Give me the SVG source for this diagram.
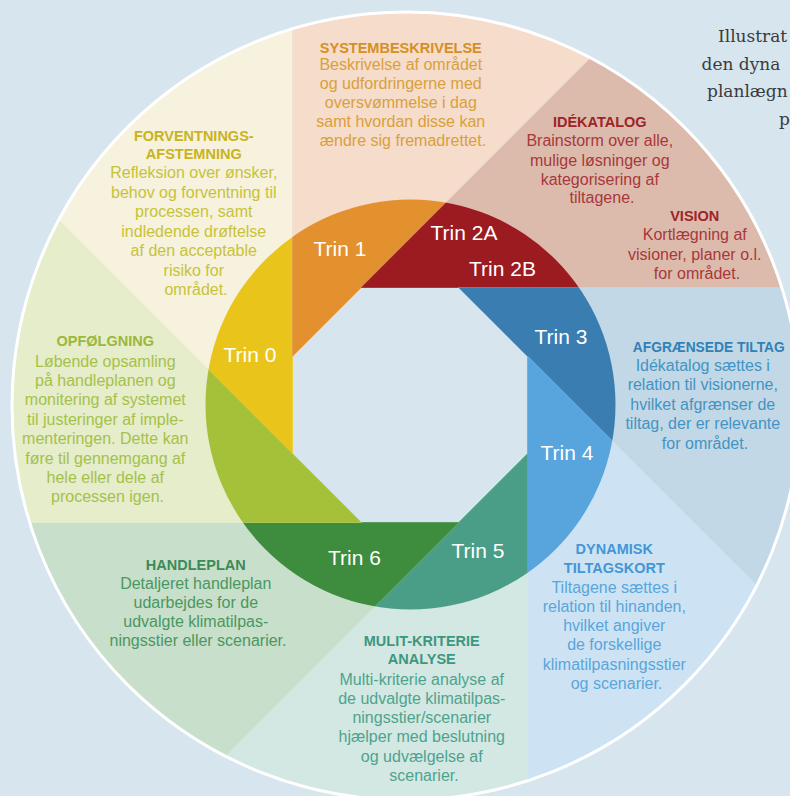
<svg xmlns="http://www.w3.org/2000/svg" xmlns:xlink="http://www.w3.org/1999/xlink" width="790" height="796" viewBox="0 0 790 796">
<defs>
<style>
.t{font-family:"Liberation Sans",Arial,sans-serif;font-size:16px;text-anchor:middle}
.h{font-weight:bold;font-size:14.5px}
.trin{font-family:"Liberation Sans",Arial,sans-serif;font-size:21px;fill:#ffffff;text-anchor:middle}
.cap{font-family:"DejaVu Serif","Liberation Serif",serif;font-size:17px;fill:#3b3b3b}
</style>
<clipPath id="outer"><circle cx="406" cy="406" r="394"/></clipPath>
<clipPath id="ring"><circle cx="410.5" cy="404.5" r="205"/></clipPath>
<polygon id="w0" points="292.5,453.7 -556,-394.8 292.5,-746.3"/>
<polygon id="w1" points="292.5,356.3 292.5,-843.7 1141,-492.2"/>
<polygon id="w2" points="361.3,287.5 1209.8,-561 1561.3,287.5"/>
<polygon id="w3" points="458.7,287.5 1658.7,287.5 1307.2,1136"/>
<polygon id="w4" points="527.5,356.3 1376,1204.8 527.5,1556.3"/>
<polygon id="w5" points="527.5,453.7 527.5,1653.7 -321,1302.2"/>
<polygon id="w6" points="458.7,522.5 -389.8,1371 -741.3,522.5"/>
<polygon id="w7" points="361.3,522.5 -838.7,522.5 -487.2,-326"/>
</defs>
<rect x="0" y="0" width="790" height="796" fill="#d6e5ee"/>

<g id="step0-forventning">
<use xlink:href="#w0" fill="#f6f2dd" stroke="#f6f2dd" stroke-width="0.6" clip-path="url(#outer)"/>
<use xlink:href="#w0" fill="#e9c51b" stroke="#e9c51b" stroke-width="0.6" clip-path="url(#ring)"/>
<text class="trin" x="250" y="361.5">Trin 0</text>
<text class="t" fill="#c8c23a">
<tspan class="h" fill="#c9b31f" x="196" y="141">FORVENTNINGS-</tspan>
<tspan class="h" fill="#c9b31f" x="196" y="158.5">AFSTEMNING</tspan>
<tspan x="196" y="178">Refleksion over ønsker,</tspan>
<tspan x="196" y="197.5">behov og forventning til</tspan>
<tspan x="196" y="217">processen, samt</tspan>
<tspan x="196" y="236.5">indledende drøftelse</tspan>
<tspan x="196" y="256">af den acceptable</tspan>
<tspan x="196" y="275.5">risiko for</tspan>
<tspan x="196" y="295">området.</tspan>
</text>
</g>

<g id="step1-systembeskrivelse">
<use xlink:href="#w1" fill="#f5dccb" stroke="#f5dccb" stroke-width="0.6" clip-path="url(#outer)"/>
<use xlink:href="#w1" fill="#e3902e" stroke="#e3902e" stroke-width="0.6" clip-path="url(#ring)"/>
<text class="trin" x="340" y="256">Trin 1</text>
<text class="t" fill="#d9a03c">
<tspan class="h" fill="#d68f25" x="403" y="53">SYSTEMBESKRIVELSE</tspan>
<tspan x="403" y="69.5">Beskrivelse af området</tspan>
<tspan x="403" y="88.5">og udfordringerne med</tspan>
<tspan x="403" y="107.5">oversvømmelse i dag</tspan>
<tspan x="403" y="126.5">samt hvordan disse kan</tspan>
<tspan x="403" y="145.5">ændre sig fremadrettet.</tspan>
</text>
</g>

<g id="step2-idekatalog-vision">
<use xlink:href="#w2" fill="#dcbbad" stroke="#dcbbad" stroke-width="0.6" clip-path="url(#outer)"/>
<use xlink:href="#w2" fill="#9b1b21" stroke="#9b1b21" stroke-width="0.6" clip-path="url(#ring)"/>
<text class="trin" x="464" y="240">Trin 2A</text>
<text class="trin" x="502.5" y="276">Trin 2B</text>
<text class="t" fill="#a8383a">
<tspan class="h" fill="#9c2528" x="602" y="127">IDÉKATALOG</tspan>
<tspan x="602" y="146">Brainstorm over alle,</tspan>
<tspan x="602" y="165.5">mulige løsninger og</tspan>
<tspan x="602" y="185">kategorisering af</tspan>
<tspan x="602" y="203">tiltagene.</tspan>
</text>
<text class="t" fill="#a8383a">
<tspan class="h" fill="#9c2528" x="697" y="220.5">VISION</tspan>
<tspan x="697" y="240">Kortlægning af</tspan>
<tspan x="697" y="259.5">visioner, planer o.l.</tspan>
<tspan x="697" y="278.5">for området.</tspan>
</text>
</g>

<g id="step3-afgraensede-tiltag">
<use xlink:href="#w3" fill="#c3d8e6" stroke="#c3d8e6" stroke-width="0.6" clip-path="url(#outer)"/>
<use xlink:href="#w3" fill="#3a7db1" stroke="#3a7db1" stroke-width="0.6" clip-path="url(#ring)"/>
<text class="trin" x="561" y="343.5">Trin 3</text>
<text class="t" fill="#4294c4">
<tspan class="h" fill="#3181b6" x="711" y="352" style="font-size:13.8px">AFGRÆNSEDE TILTAG</tspan>
<tspan x="705" y="370.5">Idékatalog sættes i</tspan>
<tspan x="705" y="390">relation til visionerne,</tspan>
<tspan x="705" y="410">hvilket afgrænser de</tspan>
<tspan x="705" y="429">tiltag, der er relevante</tspan>
<tspan x="705" y="448.5">for området.</tspan>
</text>
</g>

<g id="step4-dynamisk-tiltagskort">
<use xlink:href="#w4" fill="#cde3f4" stroke="#cde3f4" stroke-width="0.6" clip-path="url(#outer)"/>
<use xlink:href="#w4" fill="#58a4dc" stroke="#58a4dc" stroke-width="0.6" clip-path="url(#ring)"/>
<text class="trin" x="567" y="460">Trin 4</text>
<text class="t" fill="#58a6dc">
<tspan class="h" fill="#4496d4" x="616.5" y="553.5">DYNAMISK</tspan>
<tspan class="h" fill="#4496d4" x="616.5" y="572.5">TILTAGSKORT</tspan>
<tspan x="616.5" y="592.5">Tiltagene sættes i</tspan>
<tspan x="616.5" y="611.5">relation til hinanden,</tspan>
<tspan x="616.5" y="631">hvilket angiver</tspan>
<tspan x="616.5" y="650">de forskellige</tspan>
<tspan x="616.5" y="669.5">klimatilpasningsstier</tspan>
<tspan x="616.5" y="688.5">og scenarier.</tspan>
</text>
</g>

<g id="step5-multikriterie">
<use xlink:href="#w5" fill="#d3e8e2" stroke="#d3e8e2" stroke-width="0.6" clip-path="url(#outer)"/>
<use xlink:href="#w5" fill="#4a9e87" stroke="#4a9e87" stroke-width="0.6" clip-path="url(#ring)"/>
<text class="trin" x="478" y="557.5">Trin 5</text>
<text class="t" fill="#4ea38f">
<tspan class="h" fill="#3d9780" x="424" y="646">MULIT-KRITERIE</tspan>
<tspan class="h" fill="#3d9780" x="424" y="664">ANALYSE</tspan>
<tspan x="424" y="684.5">Multi-kriterie analyse af</tspan>
<tspan x="424" y="703.5">de udvalgte klimatilpas-</tspan>
<tspan x="424" y="722.5">ningsstier/scenarier</tspan>
<tspan x="424" y="741.5">hjælper med beslutning</tspan>
<tspan x="424" y="761.5">og udvælgelse af</tspan>
<tspan x="424" y="781">scenarier.</tspan>
</text>
</g>

<g id="step6-handleplan">
<use xlink:href="#w6" fill="#c8dfcb" stroke="#c8dfcb" stroke-width="0.6" clip-path="url(#outer)"/>
<use xlink:href="#w6" fill="#3e8d3e" stroke="#3e8d3e" stroke-width="0.6" clip-path="url(#ring)"/>
<text class="trin" x="354.5" y="565">Trin 6</text>
<text class="t" fill="#4a9860">
<tspan class="h" fill="#3c8a57" x="198" y="570">HANDLEPLAN</tspan>
<tspan x="198" y="588.5">Detaljeret handleplan</tspan>
<tspan x="198" y="607.5">udarbejdes for de</tspan>
<tspan x="198" y="626.5">udvalgte klimatilpas-</tspan>
<tspan x="198" y="646">ningsstier eller scenarier.</tspan>
</text>
</g>

<g id="step7-opfoelgning">
<use xlink:href="#w7" fill="#e5edcb" stroke="#e5edcb" stroke-width="0.6" clip-path="url(#outer)"/>
<use xlink:href="#w7" fill="#a5c13a" stroke="#a5c13a" stroke-width="0.6" clip-path="url(#ring)"/>
<text class="t" fill="#a6c14a">
<tspan class="h" fill="#9bb83a" x="107.5" y="346">OPFØLGNING</tspan>
<tspan x="107.5" y="366.5">Løbende opsamling</tspan>
<tspan x="107.5" y="386">på handleplanen og</tspan>
<tspan x="107.5" y="405">monitering af systemet</tspan>
<tspan x="107.5" y="424.5">til justeringer af imple-</tspan>
<tspan x="107.5" y="444">menteringen. Dette kan</tspan>
<tspan x="107.5" y="463.5">føre til gennemgang af</tspan>
<tspan x="107.5" y="482.5">hele eller dele af</tspan>
<tspan x="107.5" y="501.5">processen igen.</tspan>
</text>
</g>

<g id="connectors"></g>

<circle id="outer-rim" cx="406" cy="406" r="394" fill="none" stroke="#ffffff" stroke-width="3"/>

<g id="caption">
<text class="cap" x="718" y="42">Illustrat</text>
<text class="cap" x="701.5" y="70">den dyna</text>
<text class="cap" x="707" y="97">planlægn</text>
<text class="cap" x="779" y="125">p</text>
</g>
</svg>
